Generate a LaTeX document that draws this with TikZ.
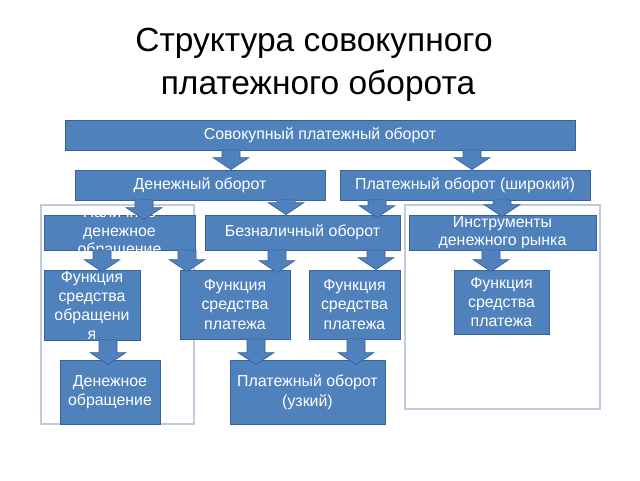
\documentclass[tikz,border=0pt]{standalone}
\usepackage{fontspec}
\setmainfont{Liberation Sans}
\usetikzlibrary{calc}
\definecolor{boxfill}{HTML}{4F81BD}
\definecolor{boxline}{HTML}{3A6297}
\definecolor{frameline}{HTML}{BFCADB}
\tikzset{
  bluebox/.style={draw=boxline, line width=0.8pt, fill=boxfill, text=white, align=center,
    inner sep=0pt, font=\fontsize{15.9}{19.5}\selectfont},
  blockarrow/.style={draw=boxline, line width=0.6pt, fill=boxfill},
  framebox/.style={draw=frameline, line width=1.1pt},
  titletext/.style={font=\fontsize{33.5}{43}\selectfont, text=black, anchor=base}
}
\newcommand\barrow[4]{%
  \filldraw[blockarrow] let \p1=(#2.south), \p2=(#3.north) in
    (#1pt-9pt,\y1+0.5pt) -- (#1pt+9pt,\y1+0.5pt) -- (#1pt+9pt,\y2-#4pt+12pt)
    -- (#1pt+18pt,\y2-#4pt+12pt) -- (#1pt,\y2-#4pt) -- (#1pt-18pt,\y2-#4pt+12pt)
    -- (#1pt-9pt,\y2-#4pt+12pt) -- cycle;}
\begin{document}
\begin{tikzpicture}[x=1pt,y=-1pt]
\useasboundingbox[fill=white] (0,0) rectangle (640,480);
% title
\node[titletext] (t1) at (314,51) {Структура совокупного};
\node[titletext] (t2) at (318,94) {платежного оборота};
% frames
\draw[framebox] (41,205) rectangle (194,424);
\draw[framebox] (405,205) rectangle (600,409);
% boxes
\node[bluebox, minimum width=510pt, minimum height=30pt] (top) at (320,135) {Совокупный платежный оборот};
\node[bluebox, minimum width=250pt, minimum height=30pt] (den) at (200,185) {Денежный оборот};
\node[bluebox, minimum width=250pt, minimum height=30pt] (plat) at (465,185) {Платежный оборот (широкий)};
\node[bluebox, minimum width=151pt, minimum height=35pt] (nal) at (119.5,232.5) {};
\node[text=white, align=center, inner sep=0pt, font=\fontsize{15.9}{18.5}\selectfont] (naltext) at (nal.center) {Наличное\\денежное\\обращение};
\node[bluebox, minimum width=195pt, minimum height=35pt] (bez) at (302.5,232.5) {Безналичный оборот};
\node[bluebox, minimum width=187pt, minimum height=35pt, font=\fontsize{15.9}{18}\selectfont] (instr) at (502.5,232.5) {Инструменты\\денежного рынка};
\node[bluebox, minimum width=96pt, minimum height=70pt] (fo) at (92,305) {};
\node[text=white, align=center, inner sep=0pt, font=\fontsize{15.9}{19}\selectfont] (fotext) at (fo.center) {Функция\\средства\\обращени\\я};
\node[bluebox, minimum width=110pt, minimum height=69pt] (fp1) at (235,304.5) {Функция\\средства\\платежа};
\node[bluebox, minimum width=91pt, minimum height=69pt] (fp2) at (354.5,304.5) {Функция\\средства\\платежа};
\node[bluebox, minimum width=95pt, minimum height=64pt, font=\fontsize{15.9}{19}\selectfont] (fp3) at (501.5,302) {Функция\\средства\\платежа};
\node[bluebox, minimum width=100pt, minimum height=64pt] (dob) at (110,392) {Денежное\\обращение};
\node[bluebox, minimum width=155pt, minimum height=64pt] (pu) at (307.5,392) {Платежный оборот\\(узкий)};
% arrows
\barrow{231}{top}{den}{0}
\barrow{472}{top}{plat}{0}
\barrow{144}{den}{nal}{5}
\barrow{286}{den}{bez}{0}
\barrow{377}{plat}{bez}{3}
\barrow{502}{plat}{instr}{2}
\barrow{102}{nal}{fo}{2}
\barrow{187}{nal}{fp1}{2}
\barrow{277}{bez}{fp1}{3}
\barrow{376}{bez}{fp2}{0}
\barrow{491}{instr}{fp3}{2}
\barrow{108}{fo}{dob}{5}
\barrow{256}{fp1}{pu}{5}
\barrow{356}{fp2}{pu}{5}
\end{tikzpicture}
\end{document}
